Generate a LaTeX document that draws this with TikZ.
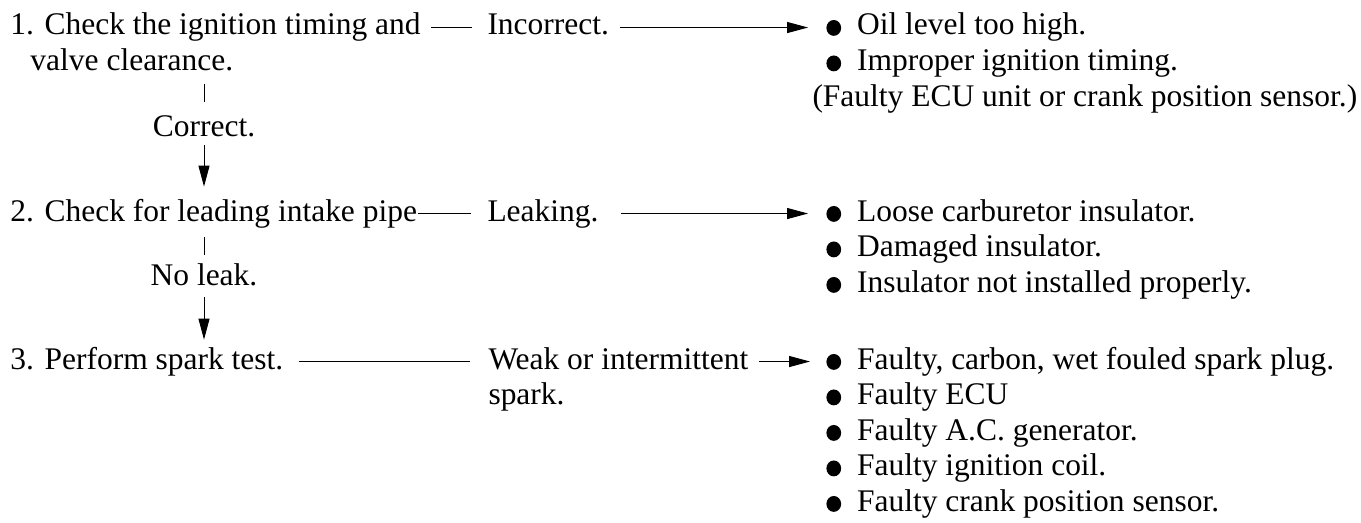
\documentclass[tikz,border=0pt]{standalone}
\usepackage{fontspec}
\setmainfont{Liberation Serif}
\usetikzlibrary{arrows.meta}
\newcommand{\bul}{\tikz[baseline=0pt]\fill (0,0.125cm) ellipse [x radius=0.13cm, y radius=0.14cm];}

\begin{document}
\begin{tikzpicture}[x=0.017634cm,y=-0.017634cm,line width=0.5pt,
  >={Triangle[length=10.5pt,width=5.5pt]},
  txt/.style={anchor=base west,inner sep=0pt,text height=11pt,text depth=3.5pt,
    font=\fontsize{15.8pt}{17.8pt}\selectfont},
  mid/.style={txt,anchor=base}]
\useasboundingbox (0,0) rectangle (1361,523);
% step 1
\node[txt] (s1) at (10,35) {1. Check the ignition timing and};
\node[txt] (s1b) at (30,70.5) {valve clearance.};
\node[mid] (ok1) at (204,136) {Correct.};
\node[txt] (r1) at (487,35) {Incorrect.};
\node[txt] (f1) at (826,35) {\bul\hspace{8pt}Oil level too high.};
\node[txt] (f1b) at (826,70.5) {\bul\hspace{8pt}Improper ignition timing.};
\node[txt] (f1c) at (812,106) {(Faulty ECU unit or crank position sensor.)};
\draw[shorten <=5pt,shorten >=7.5pt] (s1) -- (r1);
\draw[->,shorten <=5.5pt,shorten >=9pt] (r1) -- (f1);
\draw[shorten <=2.8pt,shorten >=6pt] (ok1 |- s1b.south) -- (ok1.north);
% step 2
\node[txt] (s2) at (10,221) {2. Check for leading intake pipe};
\node[mid] (ok2) at (204,285) {No leak.};
\node[txt] (r2) at (487,221) {Leaking.};
\node[txt] (f2) at (826,221) {\bul\hspace{8pt}Loose carburetor insulator.};
\node[txt] (f2b) at (826,256.5) {\bul\hspace{8pt}Damaged insulator.};
\node[txt] (f2c) at (826,292) {\bul\hspace{8pt}Insulator not installed properly.};
\draw[->,shorten <=1pt,shorten >=6pt] (ok1.south) -- (ok1 |- s2.north);
\draw[shorten >=8pt] (s2) -- (r2);
\draw[->,shorten <=11pt,shorten >=9pt] (r2) -- (f2);
\draw[shorten <=4.5pt,shorten >=4pt] (ok2 |- s2.south) -- (ok2.north);
% step 3
\node[txt] (s3) at (10,369) {3. Perform spark test.};
\node[txt] (r3) at (488,369) {Weak or intermittent};
\node[txt] (r3b) at (488,404.5) {spark.};
\node[txt] (f3) at (826,369) {\bul\hspace{8pt}Faulty, carbon, wet fouled spark plug.};
\node[txt] (f3b) at (826,404.5) {\bul\hspace{8pt}Faulty ECU};
\node[txt] (f3c) at (826,440) {\bul\hspace{8pt}Faulty A.C. generator.};
\node[txt] (f3d) at (826,475.5) {\bul\hspace{8pt}Faulty ignition coil.};
\node[txt] (f3e) at (826,511) {\bul\hspace{8pt}Faulty crank position sensor.};
\draw[->,shorten <=2.5pt,shorten >=3.5pt] (ok2.south) -- (ok2 |- s3.north);
\draw[shorten <=7.5pt,shorten >=9pt] (s3) -- (r3);
\draw[->,shorten <=5pt,shorten >=8pt] (r3) -- (f3);
\end{tikzpicture}
\end{document}
